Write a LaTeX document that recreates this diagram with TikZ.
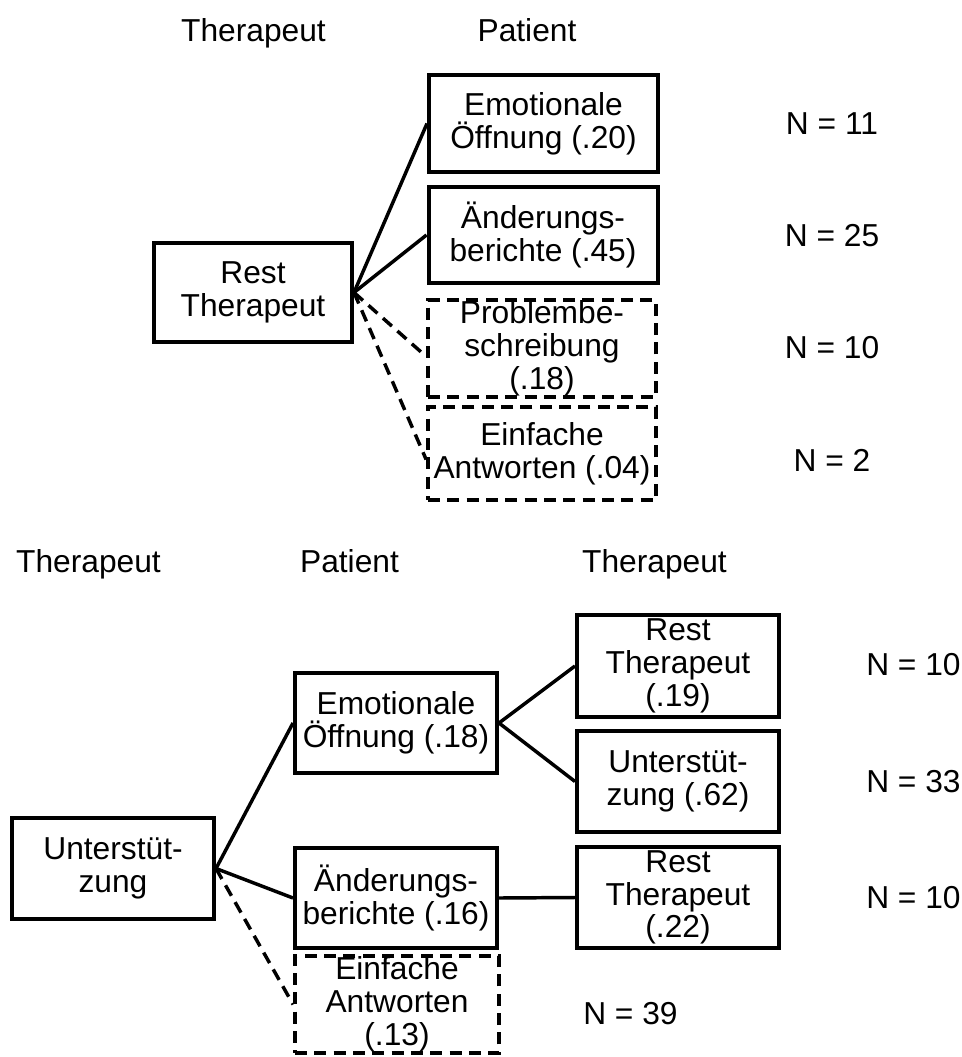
\documentclass[tikz,border=0pt]{standalone}
\usepackage{fontspec}
\setmainfont{Liberation Sans}
\begin{document}
\begin{tikzpicture}[x=0.75pt,y=-0.75pt,
  box/.style={draw, line width=3pt, inner sep=0pt},
  dbox/.style={box, line width=2.8pt, dash pattern=on 9pt off 5.5pt},
  txt/.style={align=center, inner sep=0pt, font=\fontsize{23.8pt}{24.6pt}\selectfont},
  lbl/.style={inner sep=0pt, font=\fontsize{23.8pt}{24.6pt}\selectfont, anchor=base},
  conn/.style={line width=2.6pt},
  dconn/.style={line width=2.6pt, dash pattern=on 9pt off 5.5pt}]
\useasboundingbox (0,0) rectangle (962,1057);

% ---------- top part ----------
\node[lbl] (h1) at (253.5,41) {Therapeut};
\node[lbl] (h2) at (527,41) {Patient};

\node[box, minimum width=148.5pt, minimum height=74.25pt] (rt) at (253,292.5) {};
\node[txt] (rtt) at (rt.center) {Rest\\Therapeut};

\node[box, minimum width=171.75pt, minimum height=72.75pt] (emo) at (543.5,123.5) {};
\node[txt] (emot) at (emo.center) {Emotionale\\Öffnung (.20)};

\node[box, minimum width=171.75pt, minimum height=72pt] (aend) at (543,235) {};
\node[txt] (aendt) at (aend.center) {Änderungs-\\berichte (.45)};

\node[dbox, minimum width=171pt, minimum height=72.75pt] (prob) at (542,348.5) {};
\node[txt] (probt) at (prob.center) {Problembe-\\schreibung\\(.18)};

\node[dbox, minimum width=171pt, minimum height=69.75pt] (einf) at (542,453.5) {};
\node[txt] (einft) at (einf.center) {Einfache\\Antworten (.04)};

\draw[conn] (rt.east) -- (emo.west);
\draw[conn] (rt.east) -- (aend.west);
\draw[dconn] (rt.east) -- ([yshift=-6pt]prob.west);
\draw[dconn] (rt.east) -- ([yshift=-4.5pt]einf.west);

\node[lbl] (n1) at (832,134) {N = 11};
\node[lbl] (n2) at (832,246) {N = 25};
\node[lbl] (n3) at (832,358) {N = 10};
\node[lbl] (n4) at (832,471) {N = 2};

% ---------- bottom part ----------
\node[lbl] (h3) at (88.5,572) {Therapeut};
\node[lbl] (h4) at (349.5,572) {Patient};
\node[lbl] (h5) at (654.5,572) {Therapeut};

\node[box, minimum width=151.5pt, minimum height=75.75pt] (unt) at (113,868.5) {};
\node[txt] (untt) at (unt.center) {Unterstüt-\\zung};

\node[box, minimum width=151.5pt, minimum height=75pt] (emob) at (396,723) {};
\node[txt] (emobt) at (emob.center) {Emotionale\\Öffnung (.18)};

\node[box, minimum width=151.5pt, minimum height=75pt] (aendb) at (396,898) {};
\node[txt] (aendbt) at (aendb.center) {Änderungs-\\berichte (.16)};

\node[dbox, minimum width=153pt, minimum height=72.75pt] (einfb) at (397,1004.5) {};
\node[txt] (einfbt) at (einfb.center) {Einfache\\Antworten\\(.13)};

\node[box, minimum width=151.5pt, minimum height=76.5pt] (rta) at (678,666) {};
\node[txt] (rtat) at (rta.center) {Rest\\Therapeut\\(.19)};

\node[box, minimum width=151.5pt, minimum height=75.75pt] (unb) at (678,781.5) {};
\node[txt] (unbt) at (unb.center) {Unterstüt-\\zung (.62)};

\node[box, minimum width=151.5pt, minimum height=75.75pt] (rtb) at (678,897.5) {};
\node[txt] (rtbt) at (rtb.center) {Rest\\Therapeut\\(.22)};

\draw[conn] (unt.east) -- (emob.west);
\draw[conn] (unt.east) -- (aendb.west);
\draw[dconn] (unt.east) -- (einfb.west);
\draw[conn] (emob.east) -- (rta.west);
\draw[conn] (emob.east) -- (unb.west);
\draw[conn] (aendb.east) -- (rtb.west);

\node[lbl, anchor=base west] (n5) at (866,675) {N = 10};
\node[lbl, anchor=base west] (n6) at (866,792) {N = 33};
\node[lbl, anchor=base west] (n7) at (866,908) {N = 10};
\node[lbl, anchor=base west] (n8) at (583,1024) {N = 39};
\end{tikzpicture}
\end{document}
